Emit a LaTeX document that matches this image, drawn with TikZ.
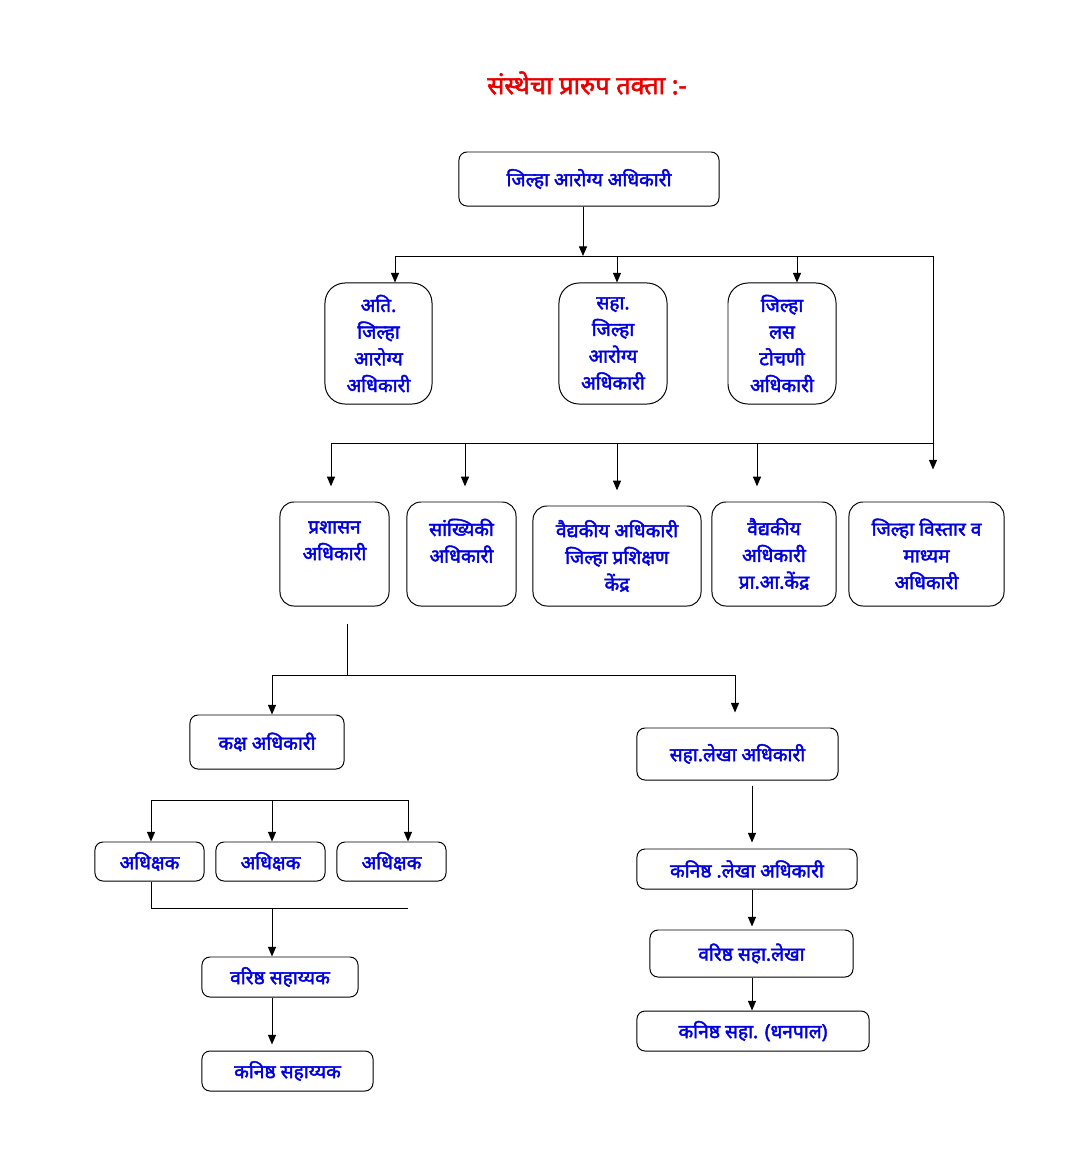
\documentclass[tikz,border=0pt]{standalone}
\usepackage{fontspec}
\newfontfamily\deva[Script=Devanagari, AutoFakeBold=2.2]{Noto Sans}
\usetikzlibrary{arrows.meta}
\definecolor{postblue}{RGB}{0,0,225}
\definecolor{titlered}{RGB}{235,0,0}
\tikzset{
  post/.style  = {rectangle, rounded corners=2mm, draw=black, line width=0.7pt,
                  align=center, text=postblue, inner sep=1pt,
                  font=\deva\bfseries\fontsize{13.6}{19}\selectfont},
  tall/.style  = {post, rounded corners=5mm},
  mid/.style   = {post, rounded corners=3.5mm},
  flow/.style  = {-{Triangle[length=2.4mm, width=2mm]}, line width=0.7pt},
  link/.style  = {line width=0.7pt},
}

\begin{document}
\begin{tikzpicture}[x=0.025cm, y=-0.025cm]
  \useasboundingbox (0,0) rectangle (1069,1152);
  \node[font=\deva\bfseries\fontsize{18}{22}\selectfont, text=titlered] (title) at (587,83) {संस्थेचा प्रारुप तक्ता :-};

  % top
  \node[post, minimum width=6.5cm, minimum height=1.35cm] (dho) at (589,179) {जिल्हा आरोग्य अधिकारी};

  % first row
  \node[tall, minimum width=2.675cm, minimum height=3.025cm] (ati)  at (378.5,343.5) {अति.\\जिल्हा\\आरोग्य\\अधिकारी};
  \node[tall, minimum width=2.7cm, minimum height=3.025cm]   (saha) at (613,343.5) {सहा.\\जिल्हा\\आरोग्य\\अधिकारी};
  \node[tall, minimum width=2.7cm, minimum height=3.025cm]   (lasa) at (782,343.5) {जिल्हा\\लस\\टोचणी\\अधिकारी};

  % second row
  \node[mid, minimum width=2.725cm, minimum height=2.6cm] (pra)    at (334.5,554) {प्रशासन\\अधिकारी\\~};
  \node[mid, minimum width=2.725cm, minimum height=2.6cm] (sankh)  at (461.5,554) {सांख्यिकी\\अधिकारी\\~};
  \node[mid, minimum width=4.2cm, minimum height=2.5cm]   (dtc)    at (617,556) {वैद्यकीय अधिकारी\\जिल्हा प्रशिक्षण\\केंद्र};
  \node[mid, minimum width=3.1cm, minimum height=2.6cm]   (phc)    at (774,554) {वैद्यकीय\\अधिकारी\\प्रा.आ.केंद्र};
  \node[mid, minimum width=3.875cm, minimum height=2.6cm] (vistar) at (926.5,554) {जिल्हा विस्तार व\\माध्यम\\अधिकारी};

  % administration branch
  \node[post, minimum width=3.85cm, minimum height=1.35cm]  (kaksh)  at (267,742) {कक्ष अधिकारी};
  \node[post, minimum width=2.725cm, minimum height=0.975cm] (adh1)  at (149.5,861.5) {अधिक्षक};
  \node[post, minimum width=2.725cm, minimum height=0.975cm] (adh2)  at (270.5,861.5) {अधिक्षक};
  \node[post, minimum width=2.725cm, minimum height=0.975cm] (adh3)  at (391.5,861.5) {अधिक्षक};
  \node[post, minimum width=3.9cm, minimum height=1cm]      (varsah) at (280,977) {वरिष्ठ सहाय्यक};
  \node[post, minimum width=4.275cm, minimum height=1cm]    (kansah) at (287.5,1071) {कनिष्ठ सहाय्यक};

  % accounts branch
  \node[post, minimum width=5.025cm, minimum height=1.3cm]  (lekha)    at (737.5,754) {सहा.लेखा अधिकारी};
  \node[post, minimum width=5.5cm, minimum height=1cm]      (kanlekha) at (747,869) {कनिष्ठ .लेखा अधिकारी};
  \node[post, minimum width=5.075cm, minimum height=1.175cm] (varlekha) at (751.5,953.5) {वरिष्ठ सहा.लेखा};
  \node[post, minimum width=5.8cm, minimum height=1cm]      (dhanpal)  at (753,1031) {कनिष्ठ सहा. (धनपाल)};

  % bus points
  \coordinate (bus1)  at (583,256);
  \coordinate (b1l)   at (395,256);
  \coordinate (b1r)   at (933,256);
  \coordinate (b2l)   at (331,443);
  \coordinate (b2r)   at (933,443);
  \coordinate (padm)  at (347,675);
  \coordinate (kl)    at (272,675);
  \coordinate (kr)    at (735,675);
  \coordinate (a1)    at (151,800);
  \coordinate (a3)    at (408,800);
  \coordinate (m1)    at (151,908);
  \coordinate (m2)    at (272,908);
  \coordinate (m3)    at (408,908);
  \coordinate (rcol)  at (752,0);

  % connectors
  \draw[flow] (dho.south -| bus1) -- (bus1);
  \draw[link] (b1l) -- (b1r);
  \foreach \nd/\bx in {ati/395, saha/617, lasa/797}
    \draw[flow] (\bx,256) coordinate (t) -- (t |- \nd.north);
  \draw[flow, shorten >=0.8cm] (b1r) -- (vistar.north -| b1r);
  \draw[link] (b2l) -- (b2r);
  \foreach \nd/\bx in {pra/331, sankh/465, dtc/617, phc/757}
    \draw[flow, shorten >=0.38cm] (\bx,443) coordinate (t) -- (t |- \nd.north);

  \draw[link] (pra.south -| padm) ++(0,17) -- (padm);
  \draw[link] (kl) -- (kr);
  \draw[flow] (kl) -- (kaksh.north -| kl);
  \draw[flow, shorten >=0.375cm] (kr) -- (lekha.north -| kr);

  \draw[link] (a1) -- (a3);
  \draw[flow] (a1) -- (adh1.north -| a1);
  \draw[flow] (kl |- a1) -- (adh2.north -| kl);
  \draw[flow] (a3) -- (adh3.north -| a3);
  \draw[link] (adh1.south -| m1) -- (m1) -- (m3);
  \draw[flow] (m2) -- (varsah.north -| m2);
  \draw[flow, shorten >=0.15cm] (varsah.south -| m2) -- (kansah.north -| m2);

  \draw[flow, shorten <=0.125cm, shorten >=0.15cm] (lekha.south -| rcol) -- (kanlekha.north -| rcol);
  \draw[flow, shorten >=0.075cm] (kanlekha.south -| rcol) -- (varlekha.north -| rcol);
  \draw[flow] (varlekha.south -| rcol) -- (dhanpal.north -| rcol);
\end{tikzpicture}
\end{document}
